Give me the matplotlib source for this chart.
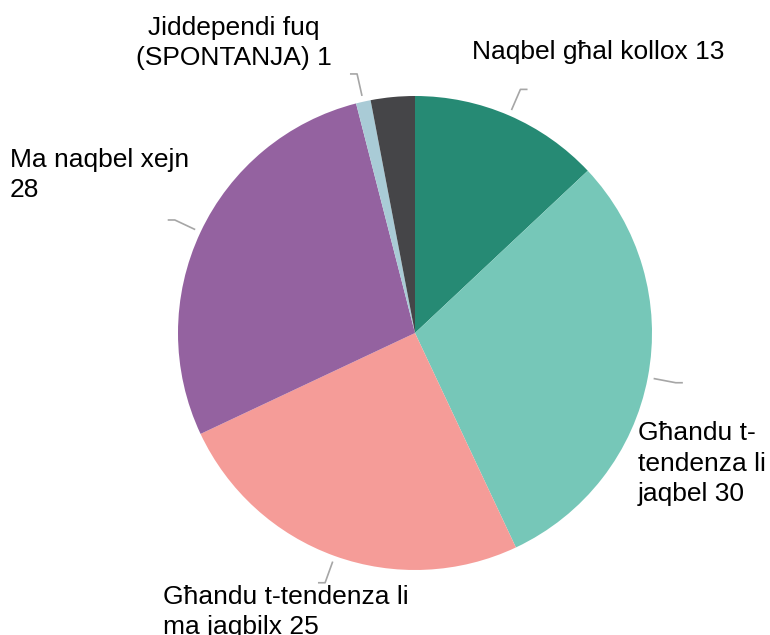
import matplotlib
matplotlib.use("Agg")
import matplotlib.pyplot as plt
import numpy as np

plt.rcParams['font.family'] = ['Liberation Sans', 'DejaVu Sans']

# ---- data ----
categories = ["Naqbel għal kollox",
              "Għandu t-\ntendenza li\njaqbel",
              "Għandu t-tendenza li\nma jaqbilx",
              "Ma naqbel xejn",
              "Jiddependi fuq\n(SPONTANJA)",
              None]
values = [13, 30, 25, 28, 1, 3]
separators = [" ", " ", " ", "\n", " ", None]
colors = ["#268A74", "#76C7B8", "#F59C98", "#9462A0", "#A9CBD6", "#454548"]

# ---- layout (pixels) ----
W, H = 770, 635
CX, CY, R = 415, 333, 237

def px(x, y):
    return ((x - CX) / R, (CY - y) / R)

# label anchor (x, last-line baseline) and alignment
label_pos = [(472, 59, 'left'), (638, 501, 'left'), (163, 634, 'left'),
             (10, 197, 'left'), (234, 65, 'center'), None]
hdir = [1, 1, -1, -1, -1, 0]

fig = plt.figure(figsize=(W / 100, H / 100), dpi=100)
ax = fig.add_axes([0, 0, 1, 1])
ax.pie(values, colors=colors, startangle=90, counterclock=False, radius=1,
       center=(0, 0), wedgeprops=dict(linewidth=0))
ax.set_xlim(-CX / R, (W - CX) / R)
ax.set_ylim((CY - H) / R, CY / R)
ax.set_aspect('auto')
ax.axis('off')

total = sum(values)
cum = 0
for i, v in enumerate(values):
    mid = np.deg2rad(90 - 360 * (cum + v / 2) / total)
    cum += v
    if categories[i] is None:
        continue
    x0, y0 = 1.025 * np.cos(mid), 1.025 * np.sin(mid)
    x1, y1 = 1.12 * np.cos(mid), 1.12 * np.sin(mid)
    x2 = x1 + 0.03 * hdir[i]
    ax.plot([x0, x1, x2], [y0, y1, y1], color="#A6A6A6", lw=1.2,
            solid_capstyle='butt')
    lx, ly, ha = label_pos[i]
    tx, ty = px(lx, ly)
    ax.text(tx, ty, f"{categories[i]}{separators[i]}{v}", fontsize=19,
            ha=ha, va='baseline', multialignment=ha, linespacing=1.33,
            color="#000000")

fig.savefig("out.png", dpi=100)
